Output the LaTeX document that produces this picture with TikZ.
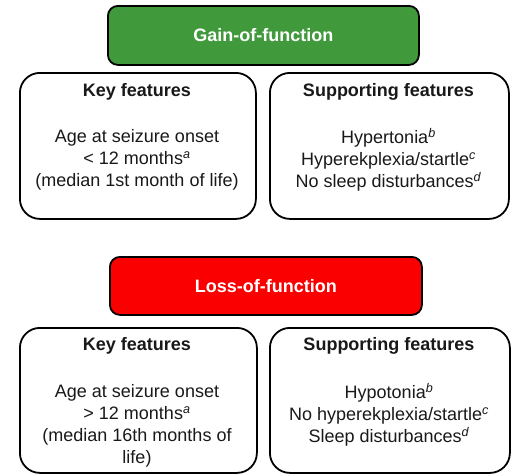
\documentclass[tikz,border=0pt]{standalone}
\usepackage{fontspec}
\setmainfont{Liberation Sans}
\definecolor{gofgreen}{RGB}{64,154,60}
\definecolor{lofred}{RGB}{250,0,0}
\definecolor{txt}{RGB}{25,25,25}
\begin{document}
\begin{tikzpicture}[x=1pt,y=-1pt,
  titlebox/.style={draw=black,line width=1.8pt,rounded corners=10pt,anchor=north west,inner sep=0pt},
  featbox/.style={draw=black,line width=1.8pt,rounded corners=20pt,fill=white,anchor=north west,inner sep=0pt},
  titletext/.style={text=white,font=\fontsize{18}{22}\selectfont\bfseries},
  headtext/.style={text=txt,font=\fontsize{18}{22}\selectfont\bfseries},
  bodytext/.style={text=txt,align=center,font=\fontsize{18}{22}\selectfont,inner sep=0pt}
]
\useasboundingbox (0,0) rectangle (514,475);
\newcommand{\sps}[1]{\textsuperscript{\textit{#1}}}
% top group
\node[titlebox,fill=gofgreen,minimum width=311pt,minimum height=59pt] (gof) at (107,5) {};
\node[titletext] (goft) at (gof.center) {Gain-of-function};
\node[featbox,minimum width=236pt,minimum height=146pt] (key1) at (19,72) {};
\node[featbox,minimum width=239pt,minimum height=146pt] (sup1) at (269,72) {};
\node[headtext] (key1h) at (137,92) {Key features};
\node[headtext] (sup1h) at (388.5,92) {Supporting features};
\node[bodytext] (key1b) at (137,160) {Age at seizure onset\\ < 12 months\sps{a}\\ (median 1st month of life)};
\node[bodytext] (sup1b) at (388.5,160) {Hypertonia\sps{b}\\ Hyperekplexia/startle\sps{c}\\ No sleep disturbances\sps{d}};
% bottom group
\node[titlebox,fill=lofred,minimum width=312pt,minimum height=58pt] (lof) at (109,256) {};
\node[titletext] (loft) at (lof.center) {Loss-of-function};
\node[featbox,minimum width=237pt,minimum height=145pt] (key2) at (19,327) {};
\node[featbox,minimum width=240pt,minimum height=145pt] (sup2) at (269,327) {};
\node[headtext] (key2h) at (137,346) {Key features};
\node[headtext] (sup2h) at (389,346) {Supporting features};
\node[bodytext] (key2b) at (137,426) {Age at seizure onset\\ > 12 months\sps{a}\\ (median 16th months of\\ life)};
\node[bodytext] (sup2b) at (389,415) {Hypotonia\sps{b}\\ No hyperekplexia/startle\sps{c}\\ Sleep disturbances\sps{d}};
\end{tikzpicture}
\end{document}
